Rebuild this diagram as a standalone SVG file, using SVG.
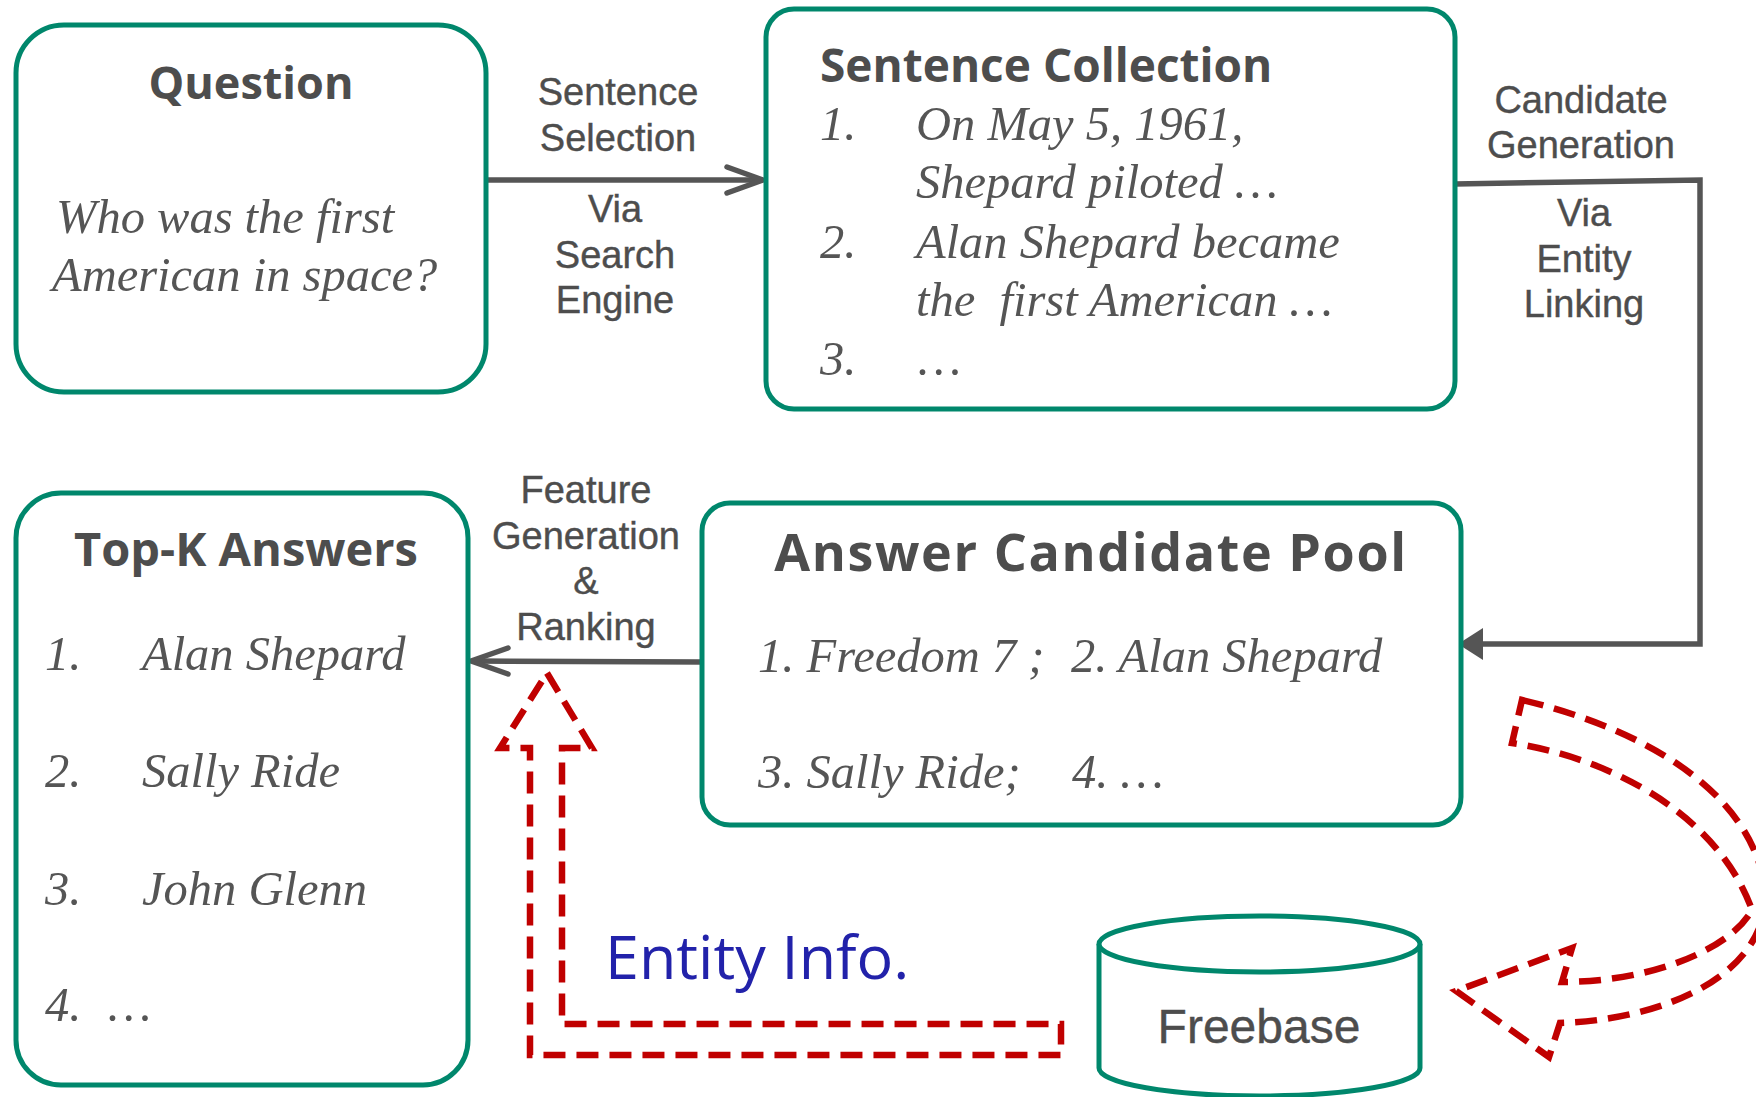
<svg xmlns="http://www.w3.org/2000/svg" width="1756" height="1097" viewBox="0 0 1756 1097">
<defs>
<style>
.box{fill:#fff;stroke:#00876c;stroke-width:5}
.title{font-family:"Open Sans","Noto Sans",sans-serif;font-weight:700;fill:#4d4d4d;font-size:45px}
.it{font-family:"Liberation Serif",serif;font-style:italic;fill:#555;font-size:48.5px}
.lbl{font-family:"Liberation Sans",Arial,sans-serif;fill:#4d4d4d;font-size:38px;text-anchor:middle;stroke:#4d4d4d;stroke-width:0.4}
.conn{fill:none;stroke:#555;stroke-width:5.5}
.chev{fill:none;stroke:#555;stroke-width:5.5;stroke-linecap:round;stroke-linejoin:round}
.red{fill:none;stroke:#c00000;stroke-width:6.5;stroke-dasharray:22 11}
</style>
</defs>
<rect width="1756" height="1097" fill="#fff"/>

<g id="connectors">
<line class="conn" x1="487" y1="180" x2="762" y2="180"/>
<polyline class="chev" points="727,167 763,180 727,193"/>
<polyline class="conn" points="1455,184 1700,180 1700,644 1480,644"/>
<polygon points="1458,644 1483,628 1483,660" fill="#555"/>
<line class="conn" x1="702" y1="662" x2="474" y2="661"/>
<polyline class="chev" points="508,648 471,661 508,674"/>
</g>

<g id="question">
<rect class="box" x="16" y="25" width="470" height="367" rx="48"/>
<text class="title" x="251" y="99" text-anchor="middle">Question</text>
<text class="it" x="56" y="233">Who was the first</text>
<text class="it" x="52" y="291">American in space?</text>
</g>

<g id="sentence-collection">
<rect class="box" x="766" y="9" width="689" height="400" rx="28"/>
<text class="title" x="820" y="82" style="font-size:46px">Sentence Collection</text>
<text class="it" x="820" y="140">1.</text>
<text class="it" x="916" y="140">On May 5, 1961,</text>
<text class="it" x="916" y="198">Shepard piloted …</text>
<text class="it" x="820" y="258">2.</text>
<text class="it" x="916" y="258">Alan Shepard became</text>
<text class="it" x="916" y="316" xml:space="preserve">the  first American …</text>
<text class="it" x="820" y="375">3.</text>
<text class="it" x="918" y="375">…</text>
</g>

<g id="answer-pool">
<rect class="box" x="702" y="503" width="759" height="322" rx="28"/>
<text class="title" x="1091" y="571" text-anchor="middle" style="font-size:52px;letter-spacing:1.6px">Answer Candidate Pool</text>
<text class="it" x="758" y="672">1. Freedom 7 ;</text>
<text class="it" x="1071" y="672">2. Alan Shepard</text>
<text class="it" x="758" y="788">3. Sally Ride;</text>
<text class="it" x="1072" y="788">4. …</text>
</g>

<g id="top-k">
<rect class="box" x="16" y="493" width="452" height="592" rx="45"/>
<text class="title" x="246" y="566" text-anchor="middle" style="font-size:47px">Top-K Answers</text>
<text class="it" x="45" y="670">1.</text>
<text class="it" x="142" y="670">Alan Shepard</text>
<text class="it" x="45" y="787">2.</text>
<text class="it" x="142" y="787">Sally Ride</text>
<text class="it" x="45" y="905">3.</text>
<text class="it" x="142" y="905">John Glenn</text>
<text class="it" x="45" y="1021">4.</text>
<text class="it" x="108" y="1021">…</text>
</g>

<g id="freebase">
<path class="box" d="M1099,944 L1099,1068 A160.5,28 0 0 0 1420,1068 L1420,944"/>
<ellipse class="box" cx="1259.5" cy="944" rx="160.5" ry="28"/>
<text class="lbl" x="1259" y="1043" style="font-size:48px">Freebase</text>
</g>

<g id="labels">
<text class="lbl" x="618" y="105">Sentence</text>
<text class="lbl" x="618" y="151">Selection</text>
<text class="lbl" x="615" y="222">Via</text>
<text class="lbl" x="615" y="268">Search</text>
<text class="lbl" x="615" y="313">Engine</text>
<text class="lbl" x="1581" y="113">Candidate</text>
<text class="lbl" x="1581" y="158">Generation</text>
<text class="lbl" x="1584" y="226">Via</text>
<text class="lbl" x="1584" y="272">Entity</text>
<text class="lbl" x="1584" y="317">Linking</text>
<text class="lbl" x="586" y="503">Feature</text>
<text class="lbl" x="586" y="549">Generation</text>
<text class="lbl" x="586" y="594">&amp;</text>
<text class="lbl" x="586" y="640">Ranking</text>
<text x="605" y="979" style="font-family:'Open Sans','Noto Sans',sans-serif;font-size:61px;fill:#2222aa">Entity Info.</text>
</g>

<g id="red-arrows">
<path class="red" d="M547,673 L592,748 L562,748 L562,1024 L1061,1024 L1061,1055 L530,1055 L530,748 L500,748 Z"/>
<path class="red" d="M1522,700 C1640,728 1755,790 1766,895 C1764,978 1660,1020 1560,1023 L1549,1057 L1456,991 L1572,948 L1562,982 C1650,982 1730,950 1752,910 C1720,820 1620,760 1512,743 Z"/>
</g>
</svg>
